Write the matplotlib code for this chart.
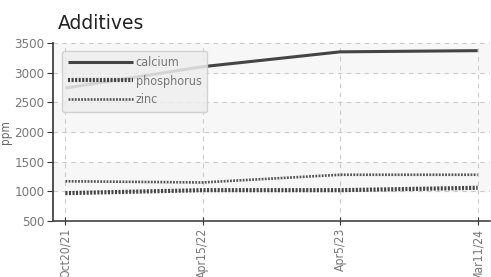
import matplotlib
matplotlib.use('Agg')
import matplotlib.pyplot as plt
from matplotlib.font_manager import FontProperties

# Data
dates = ['Oct20/21', 'Apr15/22', 'Apr5/23', 'Mar11/24']
calcium = [2740, 3100, 3350, 3370]
phosphorus = [970, 1020, 1020, 1060]
zinc = [1170, 1150, 1280, 1280]

ytick_font = FontProperties(family='DejaVu Sans', stretch='condensed', size=9.5)
xtick_font = FontProperties(family='DejaVu Sans', stretch='condensed', size=8.7)
legfont = FontProperties(family='DejaVu Sans', stretch='condensed', size=9)
narrow_small = FontProperties(family='DejaVu Sans', stretch='condensed', size=8.5)

fig = plt.figure(figsize=(4.91, 2.77), dpi=100)
ax = fig.add_axes([0.108, 0.202, 0.890, 0.643])

x = list(range(len(dates)))
ax.plot(x, calcium, color='#444444', lw=2.2, solid_capstyle='butt', label='calcium', zorder=3)
ax.plot(x, phosphorus, color='#444444', lw=3.0, linestyle=(0, (0.5, 0.35)), label='phosphorus', zorder=3)
ax.plot(x, zinc, color='#555555', lw=1.9, linestyle=(0, (0.7, 0.5)), label='zinc', zorder=3)

ax.set_xlim(-0.09, 3.09)
ax.set_ylim(500, 3500)
ax.set_yticks(range(500, 3501, 500))
ax.set_xticks(x)
ax.set_xticklabels(dates, rotation=90)
for lab in ax.get_xticklabels():
    lab.set_fontproperties(xtick_font)
    lab.set_color('#777777')
for lab in ax.get_yticklabels():
    lab.set_fontproperties(ytick_font)
    lab.set_color('#777777')

# alternating bands
for lo in range(1000, 3500, 1000):
    ax.axhspan(lo, lo + 500, color='#f7f7f7', zorder=0)

ax.grid(True, linestyle=(0, (4, 4)), color='#cccccc', lw=0.8, zorder=1)
for s in ['top', 'right']:
    ax.spines[s].set_visible(False)
ax.spines['left'].set_color('#333333')
ax.spines['bottom'].set_color('#444444')
ax.spines['left'].set_linewidth(1.2)
ax.spines['bottom'].set_linewidth(1.2)
ax.tick_params(axis='y', direction='out', length=4, color='#333333', pad=2)
ax.tick_params(axis='x', direction='inout', length=6, color='#333333', pad=2)

ax.set_ylabel('ppm', fontproperties=narrow_small, color='#666666', labelpad=2)
ax.set_title('Additives', loc='left', fontsize=13.5, color='#222222', pad=10, x=0.012)

leg = ax.legend(loc='upper left', bbox_to_anchor=(0.013, 0.978), frameon=True,
                fancybox=True, facecolor='#eeeeee', edgecolor='#cccccc', framealpha=0.85,
                prop=legfont, handlelength=5.2, handletextpad=0.2,
                labelspacing=0.45, borderpad=0.45, borderaxespad=0.3)
for t in leg.get_texts():
    t.set_color('#777777')
leg.set_zorder(5)

fig.savefig('out.png', dpi=100)
